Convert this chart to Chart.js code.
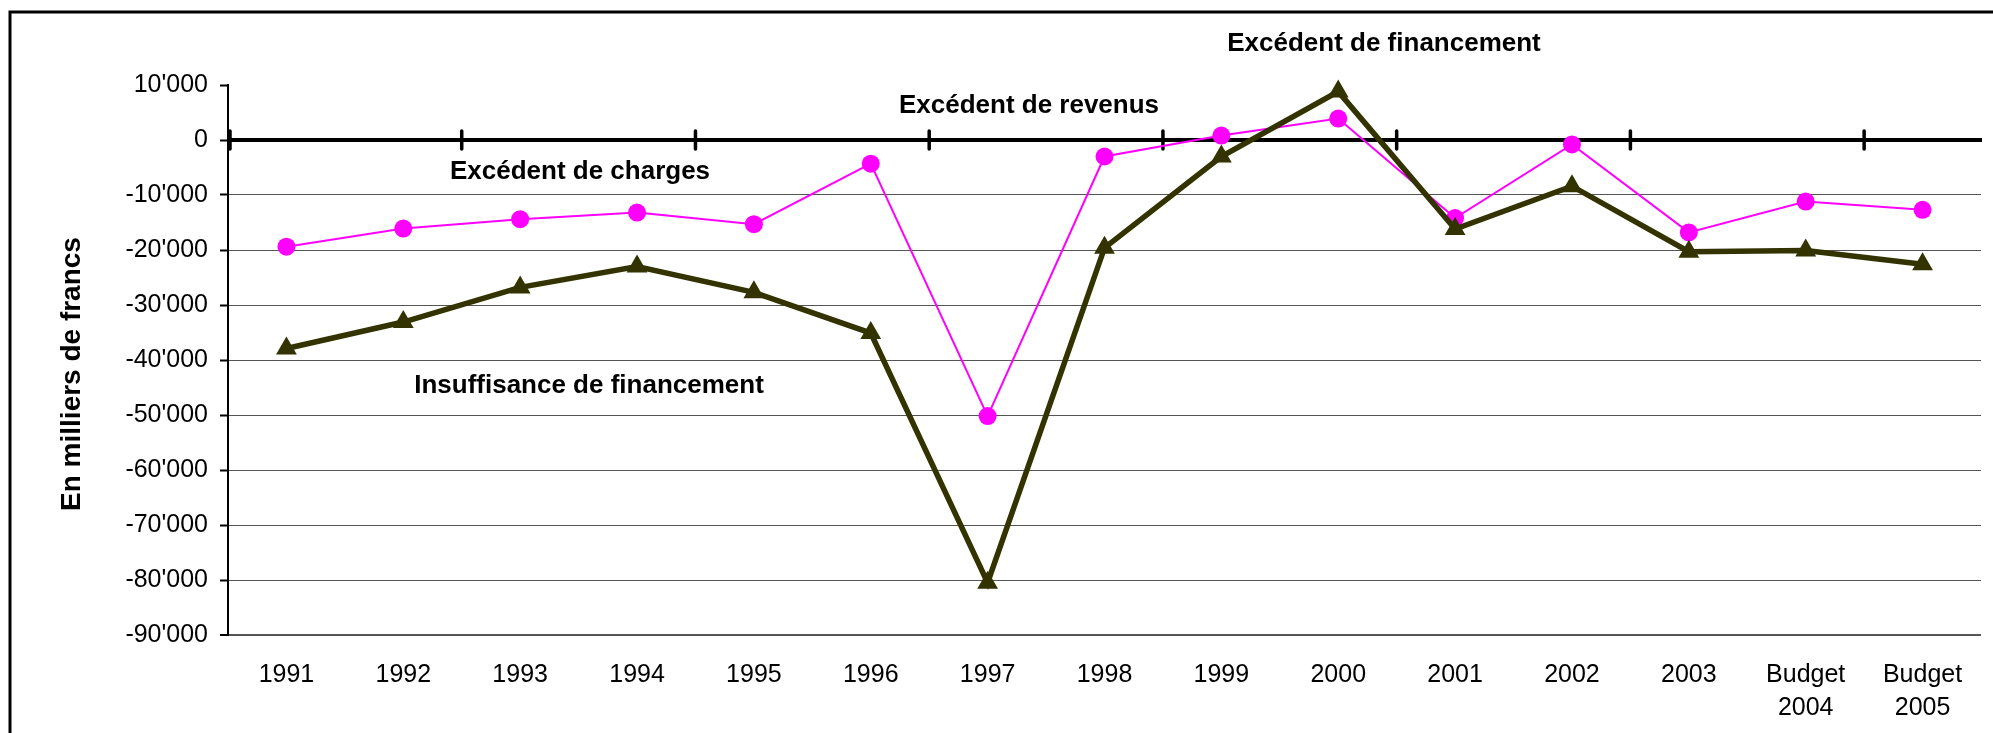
<!DOCTYPE html>
<html>
<head>
<meta charset="utf-8">
<script src="https://cdn.jsdelivr.net/npm/chart.js@4.4.1/dist/chart.umd.min.js"></script>
<style>
  html, body { margin: 0; padding: 0; background: #fff; }
  #wrap { width: 1993px; height: 733px; position: relative; }
</style>
</head>
<body>
<div id="wrap"><canvas id="c" width="1993" height="733"></canvas></div>
<script>
// ---- data ----
const categories = ['1991','1992','1993','1994','1995','1996','1997','1998','1999','2000','2001','2002','2003',['Budget','2004'],['Budget','2005']];
const excedentChargesRevenus = [-19400,-16100,-14400,-13200,-15300,-4300,-50200,-3000,800,3900,-14200,-800,-16800,-11200,-12700];
const financement = [-37900,-33100,-26800,-23000,-27700,-35100,-80500,-19600,-3000,8800,-16200,-8400,-20300,-20100,-22600];
const yMin = -90000;
const yMax = 10000;
const yStep = 10000;
const yTitle = 'En milliers de francs';
const annotations = [
  { text: 'Excédent de financement', x: 1384, y: 44 },
  { text: 'Excédent de revenus', x: 1029, y: 106 },
  { text: 'Excédent de charges', x: 580, y: 172 },
  { text: 'Insuffisance de financement', x: 589, y: 386 }
];

const FONT = '"Liberation Sans", Arial, Helvetica, sans-serif';

function fmt(v) {
  const s = String(Math.abs(v)).replace(/\B(?=(\d{3})+(?!\d))/g, "'");
  return (v < 0 ? '-' : '') + s;
}

const decor = {
  id: 'decor',
  beforeDraw(chart) {
    const ctx = chart.ctx;
    ctx.save();
    ctx.fillStyle = '#fff';
    ctx.fillRect(0, 0, chart.width, chart.height);
    ctx.strokeStyle = '#000';
    ctx.lineWidth = 3;
    ctx.beginPath();
    ctx.moveTo(10, chart.height + 5);
    ctx.lineTo(10, 12);
    ctx.lineTo(chart.width + 5, 12);
    ctx.stroke();
    ctx.restore();
  },
  beforeDatasetsDraw(chart) {
    const ctx = chart.ctx;
    const xs = chart.scales.x, ys = chart.scales.y;
    const y0 = ys.getPixelForValue(0);
    ctx.save();
    ctx.strokeStyle = '#000';
    ctx.lineWidth = 4;
    ctx.beginPath();
    ctx.moveTo(chart.chartArea.left, y0);
    ctx.lineTo(chart.chartArea.right + 1, y0);
    ctx.stroke();
    ctx.lineWidth = 3.5;
    ctx.lineCap = 'round';
    for (let i = -0.5; i < categories.length - 1; i += 2) {
      const x = xs.getPixelForValue(i) + (i === -0.5 ? 2 : 0);
      ctx.beginPath();
      ctx.moveTo(x, y0 - 9);
      ctx.lineTo(x, y0 + 9);
      ctx.stroke();
    }
    ctx.restore();
  },
  afterDraw(chart) {
    const ctx = chart.ctx;
    ctx.save();
    ctx.fillStyle = '#000';
    ctx.textAlign = 'center';
    ctx.textBaseline = 'middle';
    ctx.font = 'bold 26px ' + FONT;
    annotations.forEach(a => ctx.fillText(a.text, a.x, a.y));
    ctx.translate(72, 374);
    ctx.rotate(-Math.PI / 2);
    ctx.font = 'bold 28px ' + FONT;
    ctx.fillText(yTitle, 0, 0);
    ctx.restore();
  }
};

new Chart(document.getElementById('c'), {
  type: 'line',
  data: {
    labels: categories,
    datasets: [
      {
        label: 'Financement',
        data: financement,
        borderColor: '#333300',
        backgroundColor: '#333300',
        borderWidth: 5.5,
        pointStyle: 'triangle',
        pointRadius: 12,
        pointBorderWidth: 0,
        pointBackgroundColor: '#333300',
        tension: 0,
        clip: false
      },
      {
        label: 'Excédent de charges / revenus',
        data: excedentChargesRevenus,
        borderColor: '#ff00ff',
        backgroundColor: '#ff00ff',
        borderWidth: 2,
        pointStyle: 'circle',
        pointRadius: 9,
        pointBorderWidth: 0,
        pointBackgroundColor: '#ff00ff',
        tension: 0,
        clip: false
      }
    ]
  },
  options: {
    responsive: false,
    animation: false,
    devicePixelRatio: 1,
    layout: { padding: { top: 85, right: 7, left: 0, bottom: 0 } },
    plugins: { legend: { display: false }, tooltip: { enabled: false } },
    scales: {
      x: {
        type: 'category',
        offset: true,
        grid: { display: false },
        border: { display: false },
        ticks: {
          color: '#000',
          font: { family: FONT, size: 25, lineHeight: 1.3 },
          padding: 16,
          maxRotation: 0,
          autoSkip: false
        },
        afterFit(s) { s.height = 98; }
      },
      y: {
        min: yMin,
        max: yMax,
        ticks: {
          stepSize: yStep,
          color: '#000',
          font: { family: FONT, size: 25 },
          padding: 12,
          callback: v => fmt(v)
        },
        grid: {
          color: c => (c.tick && (c.tick.value === 0 || c.tick.value === yMax)) ? 'rgba(0,0,0,0)' : '#555',
          lineWidth: c => (c.tick && c.tick.value === yMin) ? 2 : 1,
          tickColor: '#000',
          tickWidth: 2,
          tickLength: 8,
          drawTicks: true
        },
        border: { display: true, color: '#000', width: 2 },
        afterFit(s) { s.width = 228; }
      }
    }
  },
  plugins: [decor]
});
</script>
</body>
</html>
